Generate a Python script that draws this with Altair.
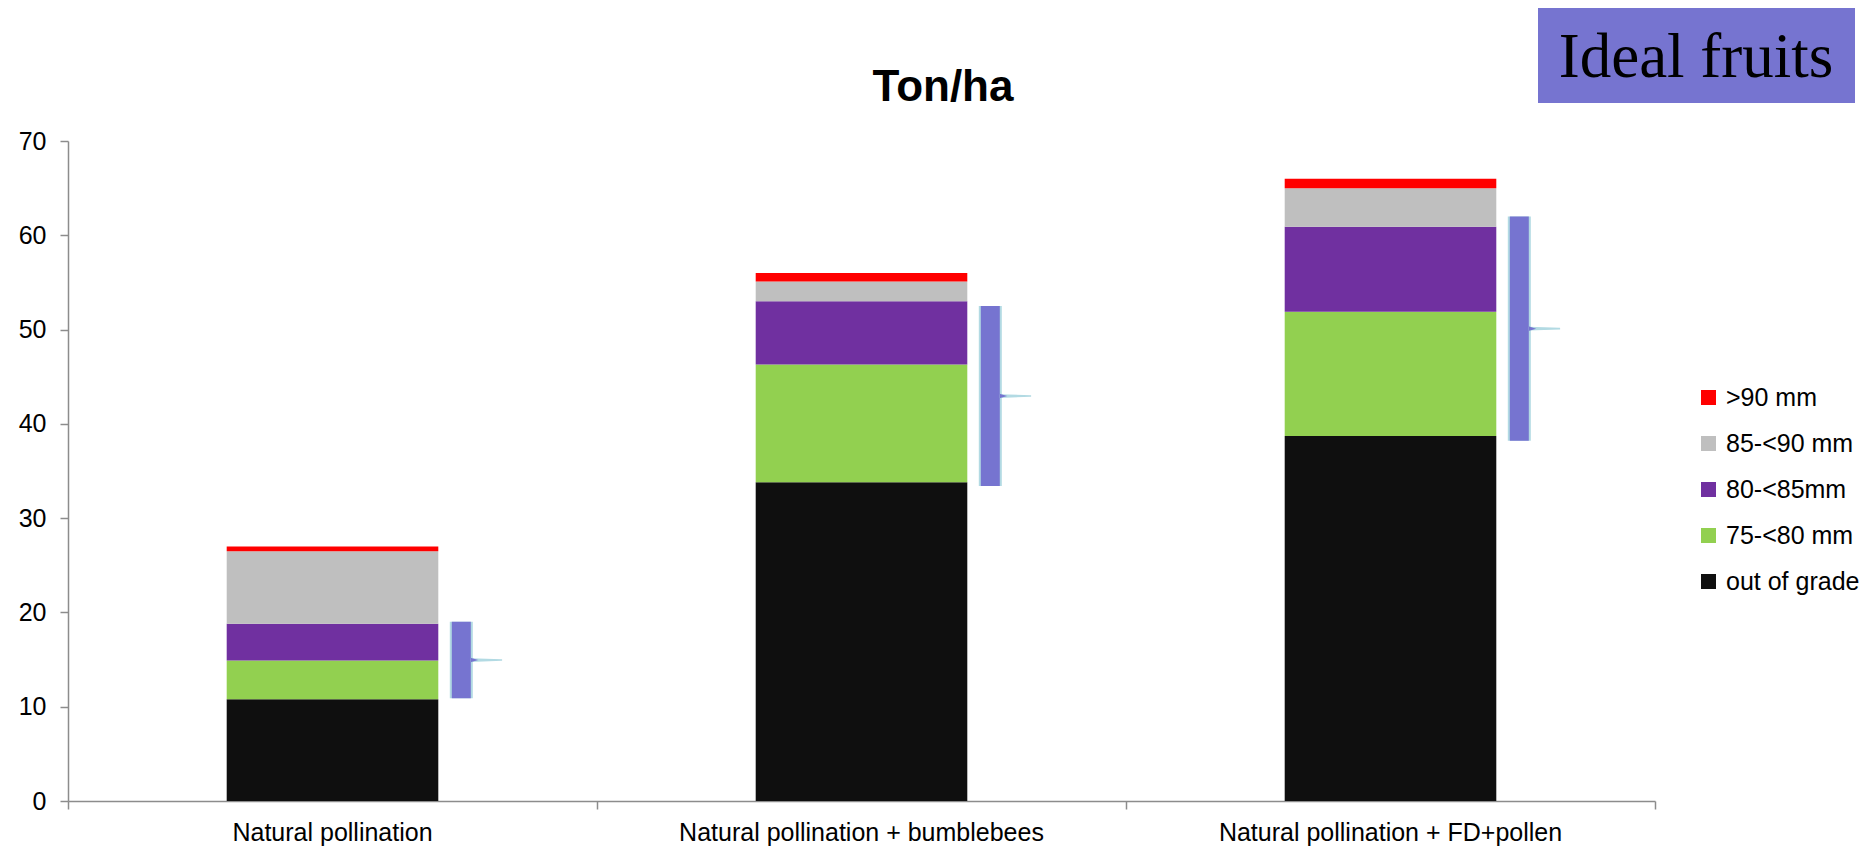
import altair as alt
import pandas as pd

# ---- data ----
categories = ["Natural pollination",
              "Natural pollination + bumblebees",
              "Natural pollination + FD+pollen"]
size_classes = ["out of grade", "75-<80 mm", "80-<85mm", "85-<90 mm", ">90 mm"]
out_of_grade = [10.8, 33.8, 38.7]
mm_75_80 = [4.1, 12.5, 13.2]
mm_80_85 = [3.9, 6.7, 9.0]
mm_85_90 = [7.7, 2.1, 4.1]
mm_90_plus = [0.5, 0.9, 1.0]
brace_low = [10.9, 33.4, 38.2]
brace_high = [19.0, 52.5, 62.0]
legend_order = [">90 mm", "85-<90 mm", "80-<85mm", "75-<80 mm", "out of grade"]
legend_colors = ["#FF0000", "#BFBFBF", "#7030A0", "#92D050", "#0F0F0F"]
y_ticks = [0, 10, 20, 30, 40, 50, 60, 70]

series = [out_of_grade, mm_75_80, mm_80_85, mm_85_90, mm_90_plus]
rows = []
for k, (cls, vals) in enumerate(zip(size_classes, series)):
    for cat, v in zip(categories, vals):
        rows.append({"category": cat, "size": cls, "value": v, "stack": k})
df = pd.DataFrame(rows)

braces = pd.DataFrame({"category": categories, "low": brace_low, "high": brace_high})

W, H = 1587, 660
FONT = "Liberation Sans"
BRACE = "#7674D0"
OUTLINE = "#B2DAE3"
AXIS_GRAY = "#8C8C8C"

x_scale = alt.Scale(paddingInner=0, paddingOuter=0)
x_axis = alt.Axis(title=None, labelAngle=0, labelFont=FONT, labelFontSize=25,
                  labelColor="black", labelPadding=11, labelLimit=0, tickSize=8,
                  bandPosition=1, tickExtra=True, tickColor=AXIS_GRAY,
                  domainColor=AXIS_GRAY, domainWidth=1.5, tickWidth=1.5)
y_scale = alt.Scale(domain=[0, 70], nice=False)
y_axis = alt.Axis(title=None, values=y_ticks, grid=False, labelFont=FONT,
                  labelFontSize=25, labelColor="black", labelPadding=14,
                  tickSize=8, tickColor=AXIS_GRAY, domainColor=AXIS_GRAY,
                  domainWidth=1.5, tickWidth=1.5)

bars = alt.Chart(df).mark_bar(width={"band": 0.4}, stroke=None).encode(
    x=alt.X("category:N", sort=categories, scale=x_scale, axis=x_axis),
    y=alt.Y("value:Q", stack="zero", scale=y_scale, axis=y_axis),
    color=alt.Color("size:N",
                    scale=alt.Scale(domain=legend_order, range=legend_colors),
                    legend=alt.Legend(orient="none", legendX=1628, legendY=244,
                                      title=None, symbolType="square", symbolSize=225,
                                      symbolStrokeWidth=0, labelFont=FONT,
                                      labelFontSize=25, labelColor="black",
                                      rowPadding=20, labelOffset=5, padding=0)),
    order=alt.Order("stack:Q", sort="ascending"),
)

bx = alt.X("category:N", sort=categories, bandPosition=0.7, scale=x_scale, axis=x_axis)
by = alt.Y("low:Q", scale=y_scale, axis=y_axis)

brace_outline = alt.Chart(braces).mark_rule(
    xOffset=23, strokeWidth=23, color=OUTLINE, strokeCap="butt").encode(
    x=bx, y=by, y2="high:Q")
brace_body = alt.Chart(braces).mark_rule(
    xOffset=23, strokeWidth=19, color=BRACE, strokeCap="butt").encode(
    x=bx, y=by, y2="high:Q")
brace_tip_line = alt.Chart(braces).transform_calculate(
    mid="(datum.low + datum.high) / 2").mark_point(
    shape="M -1 -0.12 L 1 -0.05 L 1 0.05 L -1 0.12 Z", size=1000, filled=True,
    color=OUTLINE, opacity=1, xOffset=48).encode(
    x=bx, y=alt.Y("mid:Q", scale=y_scale, axis=y_axis))
brace_tip = alt.Chart(braces).transform_calculate(
    mid="(datum.low + datum.high) / 2").mark_point(
    shape="M -1 -0.6 L 1 0 L -1 0.6 Z", size=60, filled=True,
    color=BRACE, opacity=1, xOffset=36).encode(
    x=bx, y=alt.Y("mid:Q", scale=y_scale, axis=y_axis))

note = pd.DataFrame({"label": ["Ideal fruits"]})
box = alt.Chart(note).mark_rect(color=BRACE).encode(
    x=alt.value(1470), x2=alt.value(1787), y=alt.value(-135), y2=alt.value(-38))
box_text = alt.Chart(note).mark_text(
    font="Liberation Serif", fontSize=63, color="black", align="center",
    baseline="alphabetic").encode(x=alt.value(1628), y=alt.value(-64), text="label:N")

title_df = pd.DataFrame({"t": ["Ton/ha"]})
title = alt.Chart(title_df).mark_text(
    font=FONT, fontSize=44, fontWeight="bold", color="black", align="center",
    baseline="alphabetic").encode(x=alt.value(875), y=alt.value(-40), text="t:N")

chart = alt.layer(bars, brace_outline, brace_body, brace_tip_line, brace_tip,
                  box, box_text, title).properties(
    width=W, height=H,
    autosize=alt.AutoSizeParams(type="none"),
    padding={"left": 60, "top": 133, "right": 205, "bottom": 45},
    background="white",
).configure_view(stroke=None)

chart.save("out.html", embed_options={"renderer": "svg", "actions": False})
